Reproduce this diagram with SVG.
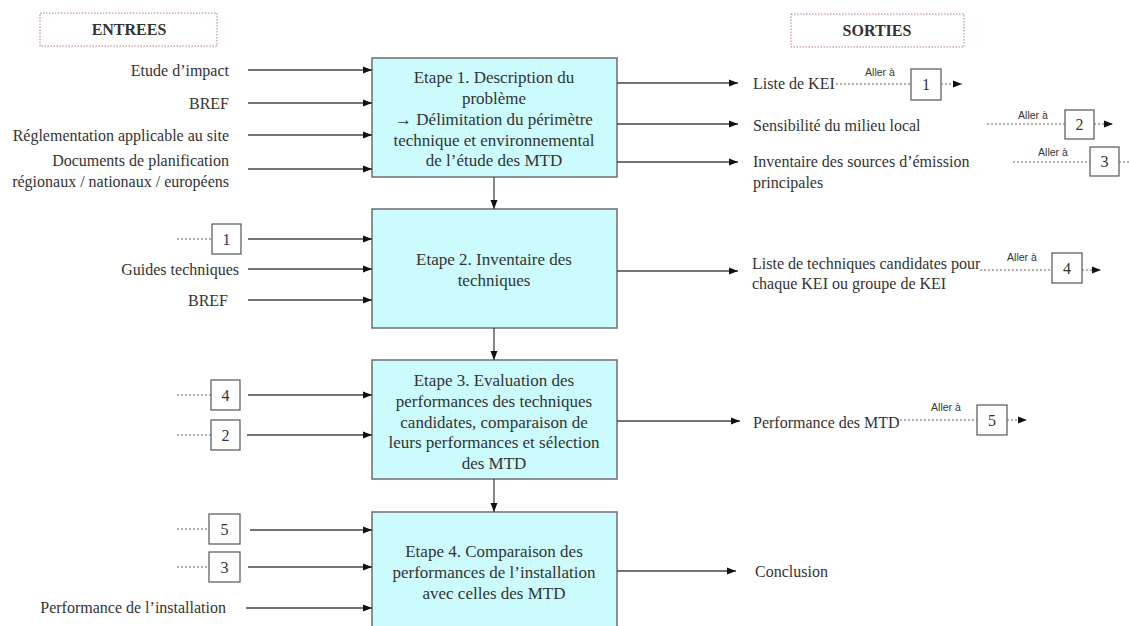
<svg xmlns="http://www.w3.org/2000/svg" width="1129" height="626" viewBox="0 0 1129 626">
<defs>
<marker id="ah" markerUnits="userSpaceOnUse" markerWidth="9" markerHeight="8" refX="9" refY="4" orient="auto"><path d="M0,0.5 L9,4 L0,7.5 z" fill="#111"/></marker>
<style>
.step{fill:#ccfbfd;stroke:#6e6e6e;stroke-width:1.5}
.st{font-family:"Liberation Serif","Times New Roman",serif;font-size:17px;fill:#333;text-anchor:middle}
.lbl{font-family:"Liberation Serif","Times New Roman",serif;font-size:16px;fill:#333}
.end{text-anchor:end}
.hdr{font-family:"Liberation Serif","Times New Roman",serif;font-size:16px;font-weight:bold;fill:#333;text-anchor:middle}
.hbox{fill:none;stroke:#b47a7a;stroke-width:1;stroke-dasharray:1.5 1.5}
.nbox{fill:#fff;stroke:#555;stroke-width:1.2}
.num{font-family:"Liberation Serif","Times New Roman",serif;font-size:16px;fill:#333;text-anchor:middle}
.go{font-family:"Liberation Sans",Arial,sans-serif;font-size:10.5px;fill:#333;text-anchor:middle}
.ar{stroke:#444;stroke-width:1.3;fill:none;marker-end:url(#ah)}
.dt{stroke:#666;stroke-width:1;fill:none;stroke-dasharray:2 2}
.dta{stroke:#666;stroke-width:1;fill:none;stroke-dasharray:2 2;marker-end:url(#ah)}
</style>
</defs>
<rect width="1129" height="626" fill="#fff"/>

<g id="hdr-entrees"><rect class="hbox" x="40" y="13" width="177" height="33"/><text class="hdr" x="129" y="35">ENTREES</text></g>
<g id="hdr-sorties"><rect class="hbox" x="791" y="14" width="173" height="33"/><text class="hdr" x="877" y="36">SORTIES</text></g>

<g id="step1"><rect class="step" x="372" y="58" width="245" height="119"/>
<text class="st" x="494" y="83">Etape 1. Description du</text>
<text class="st" x="494" y="104">problème</text>
<text class="st" x="494" y="125">→ Délimitation  du périmètre</text>
<text class="st" x="494" y="146">technique et environnemental</text>
<text class="st" x="494" y="166">de l’étude des MTD</text></g>

<g id="step2"><rect class="step" x="372" y="209" width="245" height="119"/>
<text class="st" x="494" y="265">Etape 2. Inventaire des</text>
<text class="st" x="494" y="286">techniques</text></g>

<g id="step3"><rect class="step" x="372" y="360" width="245" height="119"/>
<text class="st" x="494" y="386">Etape 3. Evaluation des</text>
<text class="st" x="494" y="407">performances des techniques</text>
<text class="st" x="494" y="428">candidates, comparaison de</text>
<text class="st" x="494" y="448">leurs performances et sélection</text>
<text class="st" x="494" y="469">des MTD</text></g>

<g id="step4"><rect class="step" x="372" y="512" width="245" height="130"/>
<text class="st" x="494" y="557">Etape 4. Comparaison des</text>
<text class="st" x="494" y="578">performances de l’installation</text>
<text class="st" x="494" y="599">avec celles  des MTD</text></g>

<g id="inputs">
<text class="lbl end" x="229" y="75.5">Etude d’impact</text>
<text class="lbl end" x="229" y="108.5">BREF</text>
<text class="lbl end" x="229" y="140.5">Réglementation applicable au site</text>
<text class="lbl end" x="229" y="165.5">Documents de planification</text>
<text class="lbl end" x="229" y="186.5">régionaux / nationaux / européens</text>
<text class="lbl end" x="239" y="274.5">Guides techniques</text>
<text class="lbl end" x="228" y="305.5">BREF</text>
<text class="lbl end" x="226" y="612.5">Performance de l’installation</text>
</g>

<g id="in-ref1"><rect class="nbox" x="212" y="224" width="29" height="30"/><text class="num" x="226.5" y="244.5">1</text></g>
<g id="in-ref4"><rect class="nbox" x="211" y="380" width="29" height="30"/><text class="num" x="225.5" y="400.5">4</text></g>
<g id="in-ref2"><rect class="nbox" x="211" y="420" width="29" height="30"/><text class="num" x="225.5" y="440.5">2</text></g>
<g id="in-ref5"><rect class="nbox" x="209" y="514" width="31" height="30"/><text class="num" x="224.5" y="534.5">5</text></g>
<g id="in-ref3"><rect class="nbox" x="209" y="552" width="31" height="30"/><text class="num" x="224.5" y="572.5">3</text></g>

<g id="outputs">
<text class="lbl" x="753" y="88.5">Liste de KEI</text>
<text class="lbl" x="753" y="130.5">Sensibilité du milieu local</text>
<text class="lbl" x="753" y="167">Inventaire des sources d’émission</text>
<text class="lbl" x="753" y="188">principales</text>
<text class="lbl" x="752" y="268.5">Liste de techniques candidates pour</text>
<text class="lbl" x="752" y="288.5">chaque KEI  ou groupe de KEI</text>
<text class="lbl" x="753" y="427.5">Performance des MTD</text>
<text class="lbl" x="755" y="576.5">Conclusion</text>
</g>

<g id="out-ref1"><rect class="nbox" x="911" y="69" width="30" height="31"/><text class="num" x="926" y="90">1</text><text class="go" x="880" y="75.5">Aller à</text></g>
<g id="out-ref2"><rect class="nbox" x="1065" y="110" width="29" height="29"/><text class="num" x="1079.5" y="130">2</text><text class="go" x="1033" y="119">Aller à</text></g>
<g id="out-ref3"><rect class="nbox" x="1090" y="147" width="29" height="29"/><text class="num" x="1104.5" y="167">3</text><text class="go" x="1053" y="156">Aller à</text></g>
<g id="out-ref4"><rect class="nbox" x="1052" y="253" width="30" height="30"/><text class="num" x="1067" y="273.5">4</text><text class="go" x="1022" y="260.5">Aller à</text></g>
<g id="out-ref5"><rect class="nbox" x="977" y="405" width="30" height="30"/><text class="num" x="992" y="425.5">5</text><text class="go" x="946" y="411">Aller à</text></g>

<g id="connectors">
<line class="ar" x1="248" y1="70" x2="372" y2="70"/>
<line class="ar" x1="248" y1="103" x2="372" y2="103"/>
<line class="ar" x1="248" y1="135" x2="372" y2="135"/>
<line class="ar" x1="248" y1="169" x2="372" y2="169"/>
<line class="ar" x1="248" y1="239" x2="372" y2="239"/>
<line class="ar" x1="248" y1="269" x2="372" y2="269"/>
<line class="ar" x1="248" y1="300" x2="372" y2="300"/>
<line class="ar" x1="248" y1="395" x2="372" y2="395"/>
<line class="ar" x1="247" y1="435" x2="372" y2="435"/>
<line class="ar" x1="250" y1="530" x2="372" y2="530"/>
<line class="ar" x1="248" y1="567" x2="372" y2="567"/>
<line class="ar" x1="246" y1="608" x2="372" y2="608"/>
<line class="dt" x1="177" y1="239" x2="212" y2="239"/>
<line class="dt" x1="177" y1="395" x2="211" y2="395"/>
<line class="dt" x1="177" y1="435" x2="211" y2="435"/>
<line class="dt" x1="177" y1="529" x2="209" y2="529"/>
<line class="dt" x1="177" y1="567" x2="209" y2="567"/>
<line class="ar" x1="494" y1="177" x2="494" y2="209"/>
<line class="ar" x1="494" y1="328" x2="494" y2="360"/>
<line class="ar" x1="494" y1="479" x2="494" y2="512"/>
<line class="ar" x1="617" y1="83" x2="738" y2="83"/>
<line class="ar" x1="617" y1="124" x2="738" y2="124"/>
<line class="ar" x1="617" y1="162" x2="738" y2="162"/>
<line class="ar" x1="617" y1="271" x2="738" y2="271"/>
<line class="ar" x1="617" y1="421" x2="740" y2="421"/>
<line class="ar" x1="617" y1="571" x2="736" y2="571"/>
<line class="dt" x1="836" y1="84" x2="911" y2="84"/>
<line class="dta" x1="941" y1="84" x2="962" y2="84"/>
<line class="dt" x1="987" y1="124" x2="1065" y2="124"/>
<line class="dta" x1="1094" y1="124" x2="1113" y2="124"/>
<line class="dt" x1="1013" y1="162" x2="1090" y2="162"/>
<line class="dt" x1="1119" y1="162" x2="1129" y2="162"/>
<line class="dt" x1="980" y1="270" x2="1052" y2="270"/>
<line class="dta" x1="1082" y1="270" x2="1101" y2="270"/>
<line class="dt" x1="900" y1="420" x2="977" y2="420"/>
<line class="dta" x1="1007" y1="420" x2="1027" y2="420"/>
</g>
</svg>
